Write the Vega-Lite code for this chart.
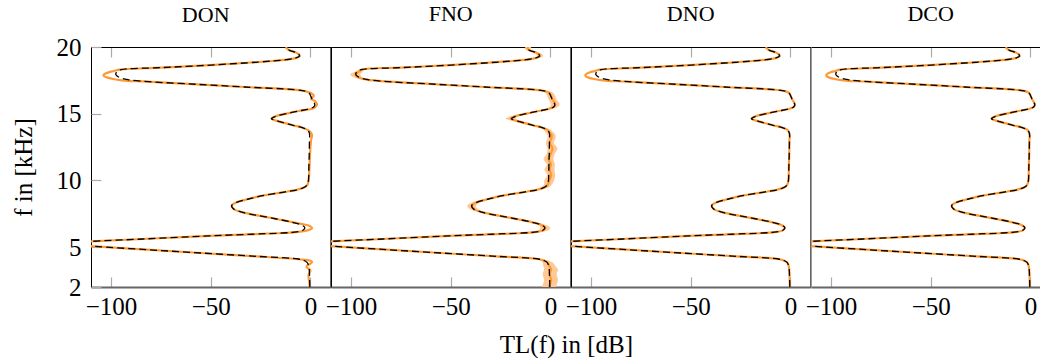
{
"$schema": "https://vega.github.io/schema/vega-lite/v6.json",
"padding": {"left": 10, "top": 2, "right": 0, "bottom": 0},
"spacing": 0,
"bounds": "flush",
"config": {"view": {"stroke": "black", "strokeWidth": 1}},
"title": {"text": "TL(f) in [dB]", "orient": "bottom", "anchor": "middle", "frame": "bounds", "dx": 40, "font": "Liberation Serif", "fontSize": 25, "fontWeight": "normal", "color": "black", "offset": 13, "baseline": "top"},
"datasets": {
"truth": [
{"f":2.0,"t":-0.3},{"f":2.5,"t":-0.4},{"f":3.0,"t":-0.5},{"f":3.3,"t":-0.6},{"f":3.6,"t":-0.9},{"f":3.85,"t":-1.7},{"f":3.97,"t":-3.0},{"f":4.1,"t":-6.0},{"f":4.3,"t":-27},{"f":4.55,"t":-55},{"f":4.8,"t":-82},{"f":5.05,"t":-108},{"f":5.18,"t":-120},{"f":5.25,"t":-123},{"f":5.32,"t":-120},{"f":5.42,"t":-110},{"f":5.6,"t":-84},{"f":5.8,"t":-56},{"f":5.95,"t":-31},{"f":6.05,"t":-14},{"f":6.13,"t":-7},{"f":6.25,"t":-3.8},{"f":6.45,"t":-2.8},{"f":6.65,"t":-4.5},{"f":6.85,"t":-9},{"f":7.1,"t":-17},{"f":7.35,"t":-26},{"f":7.6,"t":-34},{"f":7.85,"t":-38.5},{"f":8.1,"t":-39.5},{"f":8.35,"t":-37},{"f":8.6,"t":-31},{"f":8.85,"t":-24},{"f":9.1,"t":-14},{"f":9.3,"t":-6.5},{"f":9.5,"t":-2.8},{"f":9.7,"t":-1.5},{"f":10.0,"t":-1.0},{"f":11.0,"t":-0.8},{"f":12.0,"t":-0.6},{"f":13.0,"t":-0.5},{"f":13.4,"t":-0.4},{"f":13.6,"t":-0.7},{"f":13.78,"t":-1.5},{"f":13.95,"t":-4},{"f":14.13,"t":-8.7},{"f":14.4,"t":-15.5},{"f":14.63,"t":-19.5},{"f":14.8,"t":-17.5},{"f":15.0,"t":-12},{"f":15.2,"t":-6},{"f":15.35,"t":-1},{"f":15.5,"t":1.6},{"f":15.67,"t":2.2},{"f":16.1,"t":0.8},{"f":16.55,"t":-0.7},{"f":16.68,"t":-2.5},{"f":16.8,"t":-8},{"f":17.0,"t":-33},{"f":17.2,"t":-57},{"f":17.4,"t":-81},{"f":17.55,"t":-91.5},{"f":17.7,"t":-95.5},{"f":17.87,"t":-97.3},{"f":18.0,"t":-97.6},{"f":18.15,"t":-97},{"f":18.3,"t":-95},{"f":18.45,"t":-75},{"f":18.6,"t":-55},{"f":18.8,"t":-33},{"f":18.95,"t":-19},{"f":19.05,"t":-12},{"f":19.15,"t":-8},{"f":19.3,"t":-5.5},{"f":19.45,"t":-5.8},{"f":19.6,"t":-7.5},{"f":19.75,"t":-10.5},{"f":19.9,"t":-12},{"f":20.0,"t":-12}
],
"pred": [
{"m":"DON","f":2.0,"t":-0.4},{"m":"DON","f":2.4,"t":-0.6},{"m":"DON","f":2.85,"t":-1.0},{"m":"DON","f":3.05,"t":-0.5},{"m":"DON","f":3.25,"t":0.0},{"m":"DON","f":3.4,"t":-1.2},{"m":"DON","f":3.5,"t":-2.0},{"m":"DON","f":3.62,"t":-1.5},{"m":"DON","f":3.75,"t":0.0},{"m":"DON","f":3.88,"t":0.8},{"m":"DON","f":3.97,"t":0.0},{"m":"DON","f":4.05,"t":-3.5},{"m":"DON","f":4.3,"t":-27},{"m":"DON","f":4.55,"t":-55},{"m":"DON","f":4.8,"t":-82},{"m":"DON","f":5.05,"t":-108},{"m":"DON","f":5.18,"t":-120},{"m":"DON","f":5.25,"t":-123},{"m":"DON","f":5.32,"t":-120},{"m":"DON","f":5.42,"t":-110},{"m":"DON","f":5.6,"t":-84},{"m":"DON","f":5.8,"t":-56},{"m":"DON","f":5.95,"t":-31},{"m":"DON","f":6.05,"t":-14},{"m":"DON","f":6.13,"t":-6},{"m":"DON","f":6.25,"t":-1.5},{"m":"DON","f":6.4,"t":0.8},{"m":"DON","f":6.55,"t":0.0},{"m":"DON","f":6.7,"t":-3.5},{"m":"DON","f":6.85,"t":-8.5},{"m":"DON","f":7.1,"t":-17},{"m":"DON","f":7.35,"t":-26},{"m":"DON","f":7.6,"t":-34},{"m":"DON","f":7.85,"t":-38.5},{"m":"DON","f":8.1,"t":-39.5},{"m":"DON","f":8.35,"t":-37},{"m":"DON","f":8.6,"t":-31},{"m":"DON","f":8.85,"t":-24},{"m":"DON","f":9.1,"t":-14},{"m":"DON","f":9.3,"t":-6.5},{"m":"DON","f":9.5,"t":-2.8},{"m":"DON","f":9.7,"t":-1.4},{"m":"DON","f":10.0,"t":-0.9},{"m":"DON","f":11.0,"t":-0.5},{"m":"DON","f":12.0,"t":-0.2},{"m":"DON","f":13.0,"t":0.3},{"m":"DON","f":13.4,"t":0.8},{"m":"DON","f":13.6,"t":0.1},{"m":"DON","f":13.78,"t":-1.4},{"m":"DON","f":13.95,"t":-4},{"m":"DON","f":14.13,"t":-8.7},{"m":"DON","f":14.4,"t":-15.5},{"m":"DON","f":14.63,"t":-19.5},{"m":"DON","f":14.8,"t":-17.5},{"m":"DON","f":15.0,"t":-12},{"m":"DON","f":15.2,"t":-6},{"m":"DON","f":15.35,"t":0.5},{"m":"DON","f":15.5,"t":2.5},{"m":"DON","f":15.72,"t":3.3},{"m":"DON","f":15.95,"t":2.2},{"m":"DON","f":16.12,"t":0.3},{"m":"DON","f":16.35,"t":1.7},{"m":"DON","f":16.55,"t":0.2},{"m":"DON","f":16.68,"t":-2.5},{"m":"DON","f":16.8,"t":-8},{"m":"DON","f":17.0,"t":-33},{"m":"DON","f":17.2,"t":-57},{"m":"DON","f":17.4,"t":-82},{"m":"DON","f":17.5,"t":-94.5},{"m":"DON","f":17.62,"t":-99.5},{"m":"DON","f":17.73,"t":-102.3},{"m":"DON","f":17.85,"t":-103.7},{"m":"DON","f":17.97,"t":-103.3},{"m":"DON","f":18.1,"t":-101.2},{"m":"DON","f":18.2,"t":-98.5},{"m":"DON","f":18.3,"t":-95.7},{"m":"DON","f":18.45,"t":-75},{"m":"DON","f":18.6,"t":-55},{"m":"DON","f":18.8,"t":-33},{"m":"DON","f":18.95,"t":-19},{"m":"DON","f":19.05,"t":-12},{"m":"DON","f":19.15,"t":-8},{"m":"DON","f":19.3,"t":-5.5},{"m":"DON","f":19.45,"t":-5.8},{"m":"DON","f":19.6,"t":-7.5},{"m":"DON","f":19.75,"t":-10.5},{"m":"DON","f":19.9,"t":-12},{"m":"DON","f":20.0,"t":-12},

{"m":"FNO","f":2.0,"t":-0.8,"lo":-4.3,"hi":2.7},{"m":"FNO","f":2.5,"t":0.3,"lo":-3.2,"hi":3.8},{"m":"FNO","f":3.0,"t":-0.4,"lo":-3.9,"hi":3.1},{"m":"FNO","f":3.3,"t":0.3,"lo":-3.2,"hi":3.8},{"m":"FNO","f":3.6,"t":-0.6,"lo":-3.6,"hi":2.4},{"m":"FNO","f":3.85,"t":-1.5,"lo":-4.0,"hi":1.0},{"m":"FNO","f":3.97,"t":-3.0,"lo":-5.0,"hi":-1.0},{"m":"FNO","f":4.1,"t":-6.0,"lo":-7.5,"hi":-4.5},{"m":"FNO","f":4.3,"t":-27,"lo":-28,"hi":-26},{"m":"FNO","f":4.55,"t":-55,"lo":-56,"hi":-54},{"m":"FNO","f":4.8,"t":-82,"lo":-83,"hi":-81},{"m":"FNO","f":5.05,"t":-108,"lo":-109,"hi":-107},{"m":"FNO","f":5.18,"t":-120,"lo":-121,"hi":-119},{"m":"FNO","f":5.25,"t":-123,"lo":-124,"hi":-122},{"m":"FNO","f":5.32,"t":-120,"lo":-121,"hi":-119},{"m":"FNO","f":5.42,"t":-110,"lo":-111,"hi":-109},{"m":"FNO","f":5.6,"t":-84,"lo":-85,"hi":-83},{"m":"FNO","f":5.8,"t":-56,"lo":-57,"hi":-55},{"m":"FNO","f":5.95,"t":-31,"lo":-32,"hi":-30},{"m":"FNO","f":6.05,"t":-14,"lo":-15.5,"hi":-12.5},{"m":"FNO","f":6.13,"t":-7,"lo":-9,"hi":-5},{"m":"FNO","f":6.25,"t":-3.5,"lo":-6,"hi":-1},{"m":"FNO","f":6.45,"t":-2.6,"lo":-5.1,"hi":-0.1},{"m":"FNO","f":6.65,"t":-4.3,"lo":-6.3,"hi":-2.3},{"m":"FNO","f":6.85,"t":-9,"lo":-10.5,"hi":-7.5},{"m":"FNO","f":7.1,"t":-17,"lo":-18.2,"hi":-15.8},{"m":"FNO","f":7.35,"t":-26,"lo":-27.2,"hi":-24.8},{"m":"FNO","f":7.6,"t":-34,"lo":-35.5,"hi":-32.5},{"m":"FNO","f":7.85,"t":-38.5,"lo":-40.5,"hi":-36.5},{"m":"FNO","f":8.1,"t":-39.5,"lo":-41.7,"hi":-37.3},{"m":"FNO","f":8.35,"t":-37,"lo":-39,"hi":-35},{"m":"FNO","f":8.6,"t":-31,"lo":-32.5,"hi":-29.5},{"m":"FNO","f":8.85,"t":-24,"lo":-25.2,"hi":-22.8},{"m":"FNO","f":9.1,"t":-14,"lo":-15.2,"hi":-12.8},{"m":"FNO","f":9.3,"t":-6.5,"lo":-8,"hi":-5},{"m":"FNO","f":9.5,"t":-2.5,"lo":-4.5,"hi":-0.5},{"m":"FNO","f":9.7,"t":-1.2,"lo":-3.2,"hi":0.8},{"m":"FNO","f":10.0,"t":-0.6,"lo":-3.1,"hi":1.9},{"m":"FNO","f":10.4,"t":0.4,"lo":-1.6,"hi":2.4},{"m":"FNO","f":10.8,"t":-0.5,"lo":-3,"hi":2},{"m":"FNO","f":11.2,"t":0.2,"lo":-1.8,"hi":2.2},{"m":"FNO","f":11.6,"t":-1.0,"lo":-3.5,"hi":1.5},{"m":"FNO","f":12.0,"t":0.2,"lo":-1.8,"hi":2.2},{"m":"FNO","f":12.4,"t":1.0,"lo":-1.5,"hi":3.5},{"m":"FNO","f":12.8,"t":-0.3,"lo":-2.3,"hi":1.7},{"m":"FNO","f":13.2,"t":0.6,"lo":-1.4,"hi":2.6},{"m":"FNO","f":13.4,"t":0.5,"lo":-1.5,"hi":2.5},{"m":"FNO","f":13.6,"t":-0.5,"lo":-2.5,"hi":1.5},{"m":"FNO","f":13.78,"t":-1.5,"lo":-3.3,"hi":0.3},{"m":"FNO","f":13.95,"t":-4,"lo":-5.5,"hi":-2.5},{"m":"FNO","f":14.13,"t":-8.7,"lo":-10.2,"hi":-7.2},{"m":"FNO","f":14.4,"t":-15.5,"lo":-17.5,"hi":-13.5},{"m":"FNO","f":14.63,"t":-20,"lo":-22.5,"hi":-17.5},{"m":"FNO","f":14.8,"t":-18,"lo":-20.2,"hi":-15.8},{"m":"FNO","f":15.0,"t":-12,"lo":-13.5,"hi":-10.5},{"m":"FNO","f":15.2,"t":-6,"lo":-7.5,"hi":-4.5},{"m":"FNO","f":15.35,"t":-1,"lo":-2.8,"hi":0.8},{"m":"FNO","f":15.5,"t":1.6,"lo":-0.4,"hi":3.6},{"m":"FNO","f":15.67,"t":2.4,"lo":0.2,"hi":4.6},{"m":"FNO","f":16.1,"t":1.0,"lo":-1,"hi":3},{"m":"FNO","f":16.55,"t":-0.5,"lo":-2.5,"hi":1.5},{"m":"FNO","f":16.68,"t":-2.5,"lo":-4.3,"hi":-0.7},{"m":"FNO","f":16.8,"t":-8,"lo":-9.2,"hi":-6.8},{"m":"FNO","f":17.0,"t":-33,"lo":-34,"hi":-32},{"m":"FNO","f":17.2,"t":-57,"lo":-58,"hi":-56},{"m":"FNO","f":17.4,"t":-81,"lo":-82.2,"hi":-79.8},{"m":"FNO","f":17.55,"t":-92,"lo":-93.5,"hi":-90.5},{"m":"FNO","f":17.7,"t":-96,"lo":-98,"hi":-94},{"m":"FNO","f":17.85,"t":-97.5,"lo":-100,"hi":-95},{"m":"FNO","f":17.97,"t":-97.8,"lo":-100.3,"hi":-95.3},{"m":"FNO","f":18.1,"t":-96.5,"lo":-98.7,"hi":-94.3},{"m":"FNO","f":18.3,"t":-94.5,"lo":-96,"hi":-93},{"m":"FNO","f":18.45,"t":-75,"lo":-76,"hi":-74},{"m":"FNO","f":18.6,"t":-55,"lo":-56,"hi":-54},{"m":"FNO","f":18.8,"t":-33,"lo":-34,"hi":-32},{"m":"FNO","f":18.95,"t":-19,"lo":-20,"hi":-18},{"m":"FNO","f":19.05,"t":-12,"lo":-13.2,"hi":-10.8},{"m":"FNO","f":19.15,"t":-8,"lo":-9.5,"hi":-6.5},{"m":"FNO","f":19.3,"t":-5.3,"lo":-6.8,"hi":-3.8},{"m":"FNO","f":19.45,"t":-5.6,"lo":-7.1,"hi":-4.1},{"m":"FNO","f":19.6,"t":-7.5,"lo":-9,"hi":-6},{"m":"FNO","f":19.75,"t":-10.5,"lo":-12,"hi":-9},{"m":"FNO","f":19.9,"t":-11.5,"lo":-13,"hi":-10},{"m":"FNO","f":20.0,"t":-11,"lo":-12.5,"hi":-9.5},

{"m":"DNO","f":2.0,"t":-0.3},{"m":"DNO","f":2.5,"t":-0.4},{"m":"DNO","f":3.0,"t":-0.5},{"m":"DNO","f":3.3,"t":-0.6},{"m":"DNO","f":3.6,"t":-0.9},{"m":"DNO","f":3.85,"t":-1.7},{"m":"DNO","f":3.97,"t":-3.0},{"m":"DNO","f":4.1,"t":-6.0},{"m":"DNO","f":4.3,"t":-27},{"m":"DNO","f":4.55,"t":-55},{"m":"DNO","f":4.8,"t":-82},{"m":"DNO","f":5.05,"t":-108},{"m":"DNO","f":5.18,"t":-120},{"m":"DNO","f":5.25,"t":-123},{"m":"DNO","f":5.32,"t":-120},{"m":"DNO","f":5.42,"t":-110},{"m":"DNO","f":5.6,"t":-84},{"m":"DNO","f":5.8,"t":-56},{"m":"DNO","f":5.95,"t":-31},{"m":"DNO","f":6.05,"t":-14},{"m":"DNO","f":6.13,"t":-7},{"m":"DNO","f":6.25,"t":-3.8},{"m":"DNO","f":6.45,"t":-2.8},{"m":"DNO","f":6.65,"t":-4.5},{"m":"DNO","f":6.85,"t":-9},{"m":"DNO","f":7.1,"t":-17},{"m":"DNO","f":7.35,"t":-26},{"m":"DNO","f":7.6,"t":-34},{"m":"DNO","f":7.85,"t":-38.5},{"m":"DNO","f":8.1,"t":-39.5},{"m":"DNO","f":8.35,"t":-37},{"m":"DNO","f":8.6,"t":-31},{"m":"DNO","f":8.85,"t":-24},{"m":"DNO","f":9.1,"t":-14},{"m":"DNO","f":9.3,"t":-6.5},{"m":"DNO","f":9.5,"t":-2.8},{"m":"DNO","f":9.7,"t":-1.5},{"m":"DNO","f":10.0,"t":-1.0},{"m":"DNO","f":11.0,"t":-0.8},{"m":"DNO","f":12.0,"t":-0.6},{"m":"DNO","f":13.0,"t":-0.5},{"m":"DNO","f":13.4,"t":-0.4},{"m":"DNO","f":13.6,"t":-0.7},{"m":"DNO","f":13.78,"t":-1.5},{"m":"DNO","f":13.95,"t":-4},{"m":"DNO","f":14.13,"t":-8.7},{"m":"DNO","f":14.4,"t":-15.5},{"m":"DNO","f":14.63,"t":-19.5},{"m":"DNO","f":14.8,"t":-17.5},{"m":"DNO","f":15.0,"t":-12},{"m":"DNO","f":15.2,"t":-6},{"m":"DNO","f":15.35,"t":-1},{"m":"DNO","f":15.5,"t":1.6},{"m":"DNO","f":15.67,"t":2.2},{"m":"DNO","f":16.1,"t":0.8},{"m":"DNO","f":16.55,"t":-0.7},{"m":"DNO","f":16.68,"t":-2.5},{"m":"DNO","f":16.8,"t":-8},{"m":"DNO","f":17.0,"t":-33},{"m":"DNO","f":17.2,"t":-57},{"m":"DNO","f":17.4,"t":-82},{"m":"DNO","f":17.5,"t":-94},{"m":"DNO","f":17.62,"t":-99},{"m":"DNO","f":17.73,"t":-101.7},{"m":"DNO","f":17.85,"t":-102.8},{"m":"DNO","f":17.97,"t":-102.4},{"m":"DNO","f":18.1,"t":-100.5},{"m":"DNO","f":18.2,"t":-98},{"m":"DNO","f":18.3,"t":-95.5},{"m":"DNO","f":18.45,"t":-75},{"m":"DNO","f":18.6,"t":-55},{"m":"DNO","f":18.8,"t":-33},{"m":"DNO","f":18.95,"t":-19},{"m":"DNO","f":19.05,"t":-12},{"m":"DNO","f":19.15,"t":-8},{"m":"DNO","f":19.3,"t":-5.5},{"m":"DNO","f":19.45,"t":-5.8},{"m":"DNO","f":19.6,"t":-7.5},{"m":"DNO","f":19.75,"t":-10.5},{"m":"DNO","f":19.9,"t":-12},{"m":"DNO","f":20.0,"t":-12},

{"m":"DCO","f":2.0,"t":-0.3},{"m":"DCO","f":2.5,"t":-0.4},{"m":"DCO","f":3.0,"t":-0.5},{"m":"DCO","f":3.3,"t":-0.6},{"m":"DCO","f":3.6,"t":-0.9},{"m":"DCO","f":3.85,"t":-1.7},{"m":"DCO","f":3.97,"t":-3.0},{"m":"DCO","f":4.1,"t":-6.0},{"m":"DCO","f":4.3,"t":-27},{"m":"DCO","f":4.55,"t":-55},{"m":"DCO","f":4.8,"t":-82},{"m":"DCO","f":5.05,"t":-108},{"m":"DCO","f":5.18,"t":-120},{"m":"DCO","f":5.25,"t":-123},{"m":"DCO","f":5.32,"t":-120},{"m":"DCO","f":5.42,"t":-110},{"m":"DCO","f":5.6,"t":-84},{"m":"DCO","f":5.8,"t":-56},{"m":"DCO","f":5.95,"t":-31},{"m":"DCO","f":6.05,"t":-14},{"m":"DCO","f":6.13,"t":-7},{"m":"DCO","f":6.25,"t":-3.8},{"m":"DCO","f":6.45,"t":-2.8},{"m":"DCO","f":6.65,"t":-4.5},{"m":"DCO","f":6.85,"t":-9},{"m":"DCO","f":7.1,"t":-17},{"m":"DCO","f":7.35,"t":-26},{"m":"DCO","f":7.6,"t":-34},{"m":"DCO","f":7.85,"t":-38.5},{"m":"DCO","f":8.1,"t":-39.5},{"m":"DCO","f":8.35,"t":-37},{"m":"DCO","f":8.6,"t":-31},{"m":"DCO","f":8.85,"t":-24},{"m":"DCO","f":9.1,"t":-14},{"m":"DCO","f":9.3,"t":-6.5},{"m":"DCO","f":9.5,"t":-2.8},{"m":"DCO","f":9.7,"t":-1.5},{"m":"DCO","f":10.0,"t":-1.0},{"m":"DCO","f":11.0,"t":-0.8},{"m":"DCO","f":12.0,"t":-0.6},{"m":"DCO","f":13.0,"t":-0.5},{"m":"DCO","f":13.4,"t":-0.4},{"m":"DCO","f":13.6,"t":-0.7},{"m":"DCO","f":13.78,"t":-1.5},{"m":"DCO","f":13.95,"t":-4},{"m":"DCO","f":14.13,"t":-8.7},{"m":"DCO","f":14.4,"t":-15.5},{"m":"DCO","f":14.63,"t":-19.5},{"m":"DCO","f":14.8,"t":-17.5},{"m":"DCO","f":15.0,"t":-12},{"m":"DCO","f":15.2,"t":-6},{"m":"DCO","f":15.35,"t":-1},{"m":"DCO","f":15.5,"t":1.6},{"m":"DCO","f":15.67,"t":2.2},{"m":"DCO","f":16.1,"t":0.8},{"m":"DCO","f":16.55,"t":-0.7},{"m":"DCO","f":16.68,"t":-2.5},{"m":"DCO","f":16.8,"t":-8},{"m":"DCO","f":17.0,"t":-33},{"m":"DCO","f":17.2,"t":-57},{"m":"DCO","f":17.4,"t":-82},{"m":"DCO","f":17.5,"t":-93.8},{"m":"DCO","f":17.62,"t":-98.7},{"m":"DCO","f":17.73,"t":-101.3},{"m":"DCO","f":17.85,"t":-102.3},{"m":"DCO","f":17.97,"t":-102},{"m":"DCO","f":18.1,"t":-100.2},{"m":"DCO","f":18.2,"t":-97.8},{"m":"DCO","f":18.3,"t":-95.4},{"m":"DCO","f":18.45,"t":-75},{"m":"DCO","f":18.6,"t":-55},{"m":"DCO","f":18.8,"t":-33},{"m":"DCO","f":18.95,"t":-19},{"m":"DCO","f":19.05,"t":-12},{"m":"DCO","f":19.15,"t":-8},{"m":"DCO","f":19.3,"t":-5.5},{"m":"DCO","f":19.45,"t":-5.8},{"m":"DCO","f":19.6,"t":-7.5},{"m":"DCO","f":19.75,"t":-10.5},{"m":"DCO","f":19.9,"t":-12},{"m":"DCO","f":20.0,"t":-12}
]
},
"hconcat": [
{
 "title": {"text": "DON", "font": "Liberation Serif", "fontSize": 22, "fontWeight": "normal", "color": "black", "baseline": "alphabetic", "offset": -9, "dx": -5},
 "width": 239.4, "height": 240,
 "view": {"stroke": "black", "strokeWidth": 1},
 "layer": [
  {"data": {"name": "pred"}, "transform": [{"filter": "datum.m === 'DON'"}],
   "mark": {"type": "line", "color": "#ff9933", "strokeWidth": 2.2, "clip": true, "interpolate": "catmull-rom"},
   "encoding": {
    "x": {"field": "t", "type": "quantitative", "scale": {"domain": [-110, 10], "nice": false, "zero": false}, "axis": {"orient": "bottom", "values": [-100, -50, 0], "title": null, "labelFont": "Liberation Serif", "labelFontSize": 25, "labelColor": "black", "labelPadding": 17, "labelFlush": false, "labelOverlap": false, "tickColor": "#aaaaaa", "tickSize": -10, "tickWidth": 1.2, "grid": false, "domainColor": "#666666", "domainWidth": 2}},
    "y": {"field": "f", "type": "quantitative", "scale": {"domain": [2, 20], "nice": false, "zero": false}, "axis": {"values": [2, 5, 10, 15, 20], "title": "f in [kHz]", "titleFont": "Liberation Serif", "titleFontSize": 25, "titleFontWeight": "normal", "titleColor": "black", "titlePadding": 20, "labelFont": "Liberation Serif", "labelFontSize": 25, "labelColor": "black", "labelPadding": 20, "labelFlush": false, "labelOverlap": false, "tickColor": "#aaaaaa", "tickSize": -10, "tickWidth": 1.2, "grid": false, "domain": false}},
    "order": {"field": "f", "type": "quantitative"}}},
  {"data": {"name": "truth"},
   "mark": {"type": "line", "color": "black", "strokeWidth": 1.3, "strokeDash": [7, 4], "clip": true, "interpolate": "catmull-rom"},
   "encoding": {
    "x": {"field": "t", "type": "quantitative", "scale": {"domain": [-110, 10], "nice": false, "zero": false}, "axis": {"orient": "top", "values": [-100, -50, 0], "title": null, "labels": false, "tickColor": "#aaaaaa", "tickSize": -10, "tickWidth": 1.2, "grid": false, "domainColor": "black", "domainWidth": 1}},
    "y": {"field": "f", "type": "quantitative", "scale": {"domain": [2, 20], "nice": false, "zero": false}, "axis": {"values": [2, 5, 10, 15, 20], "title": "f in [kHz]", "titleFont": "Liberation Serif", "titleFontSize": 25, "titleFontWeight": "normal", "titleColor": "black", "titlePadding": 20, "labelFont": "Liberation Serif", "labelFontSize": 25, "labelColor": "black", "labelPadding": 20, "labelFlush": false, "labelOverlap": false, "tickColor": "#aaaaaa", "tickSize": -10, "tickWidth": 1.2, "grid": false, "domain": false}},
    "order": {"field": "f", "type": "quantitative"}}}
 ],
 "resolve": {"axis": {"x": "independent"}}
},
{
 "title": {"text": "FNO", "font": "Liberation Serif", "fontSize": 22, "fontWeight": "normal", "color": "black", "baseline": "alphabetic", "offset": 3},
 "width": 239.4, "height": 240,
 "view": {"stroke": "black", "strokeWidth": 1},
 "layer": [
  {"data": {"name": "pred"}, "transform": [{"filter": "datum.m === 'FNO'"}],
   "mark": {"type": "area", "orient": "horizontal", "color": "#ffc996", "clip": true, "interpolate": "catmull-rom"},
   "encoding": {
    "x": {"field": "lo", "type": "quantitative", "scale": {"domain": [-110, 10], "nice": false, "zero": false}, "axis": null},
    "x2": {"field": "hi"},
    "y": {"field": "f", "type": "quantitative", "scale": {"domain": [2, 20], "nice": false, "zero": false}, "axis": null}}},
  {"data": {"name": "pred"}, "transform": [{"filter": "datum.m === 'FNO'"}],
   "mark": {"type": "line", "color": "#ff9933", "strokeWidth": 2.2, "clip": true, "interpolate": "catmull-rom"},
   "encoding": {
    "x": {"field": "t", "type": "quantitative", "scale": {"domain": [-110, 10], "nice": false, "zero": false}, "axis": {"orient": "bottom", "values": [-100, -50, 0], "title": null, "labelFont": "Liberation Serif", "labelFontSize": 25, "labelColor": "black", "labelPadding": 17, "labelFlush": false, "labelOverlap": false, "tickColor": "#aaaaaa", "tickSize": -10, "tickWidth": 1.2, "grid": false, "domainColor": "#666666", "domainWidth": 2}},
    "y": {"field": "f", "type": "quantitative", "scale": {"domain": [2, 20], "nice": false, "zero": false}, "axis": null},
    "order": {"field": "f", "type": "quantitative"}}},
  {"data": {"name": "truth"},
   "mark": {"type": "line", "color": "black", "strokeWidth": 1.3, "strokeDash": [7, 4], "clip": true, "interpolate": "catmull-rom"},
   "encoding": {
    "x": {"field": "t", "type": "quantitative", "scale": {"domain": [-110, 10], "nice": false, "zero": false}, "axis": {"orient": "top", "values": [-100, -50, 0], "title": null, "labels": false, "tickColor": "#aaaaaa", "tickSize": -10, "tickWidth": 1.2, "grid": false, "domainColor": "black", "domainWidth": 1}},
    "y": {"field": "f", "type": "quantitative", "scale": {"domain": [2, 20], "nice": false, "zero": false}, "axis": null},
    "order": {"field": "f", "type": "quantitative"}}}
 ],
 "resolve": {"axis": {"x": "independent"}}
},
{
 "title": {"text": "DNO", "font": "Liberation Serif", "fontSize": 22, "fontWeight": "normal", "color": "black", "baseline": "alphabetic", "offset": 3},
 "width": 239.4, "height": 240,
 "view": {"stroke": "black", "strokeWidth": 1},
 "layer": [
  {"data": {"name": "pred"}, "transform": [{"filter": "datum.m === 'DNO'"}],
   "mark": {"type": "line", "color": "#ff9933", "strokeWidth": 2.2, "clip": true, "interpolate": "catmull-rom"},
   "encoding": {
    "x": {"field": "t", "type": "quantitative", "scale": {"domain": [-110, 10], "nice": false, "zero": false}, "axis": {"orient": "bottom", "values": [-100, -50, 0], "title": null, "labelFont": "Liberation Serif", "labelFontSize": 25, "labelColor": "black", "labelPadding": 17, "labelFlush": false, "labelOverlap": false, "tickColor": "#aaaaaa", "tickSize": -10, "tickWidth": 1.2, "grid": false, "domainColor": "#666666", "domainWidth": 2}},
    "y": {"field": "f", "type": "quantitative", "scale": {"domain": [2, 20], "nice": false, "zero": false}, "axis": null},
    "order": {"field": "f", "type": "quantitative"}}},
  {"data": {"name": "truth"},
   "mark": {"type": "line", "color": "black", "strokeWidth": 1.3, "strokeDash": [7, 4], "clip": true, "interpolate": "catmull-rom"},
   "encoding": {
    "x": {"field": "t", "type": "quantitative", "scale": {"domain": [-110, 10], "nice": false, "zero": false}, "axis": {"orient": "top", "values": [-100, -50, 0], "title": null, "labels": false, "tickColor": "#aaaaaa", "tickSize": -10, "tickWidth": 1.2, "grid": false, "domainColor": "black", "domainWidth": 1}},
    "y": {"field": "f", "type": "quantitative", "scale": {"domain": [2, 20], "nice": false, "zero": false}, "axis": null},
    "order": {"field": "f", "type": "quantitative"}}}
 ],
 "resolve": {"axis": {"x": "independent"}}
},
{
 "title": {"text": "DCO", "font": "Liberation Serif", "fontSize": 22, "fontWeight": "normal", "color": "black", "baseline": "alphabetic", "offset": 3, "dx": 4},
 "width": 231.4, "height": 240,
 "view": {"stroke": null},
 "layer": [
  {"data": {"name": "pred"}, "transform": [{"filter": "datum.m === 'DCO'"}],
   "mark": {"type": "line", "color": "#ff9933", "strokeWidth": 2.2, "clip": true, "interpolate": "catmull-rom"},
   "encoding": {
    "x": {"field": "t", "type": "quantitative", "scale": {"domain": [-110, 6], "nice": false, "zero": false}, "axis": {"orient": "bottom", "values": [-100, -50, 0], "title": null, "labelFont": "Liberation Serif", "labelFontSize": 25, "labelColor": "black", "labelPadding": 17, "labelFlush": false, "labelOverlap": false, "tickColor": "#aaaaaa", "tickSize": -10, "tickWidth": 1.2, "grid": false, "domainColor": "#666666", "domainWidth": 2}},
    "y": {"field": "f", "type": "quantitative", "scale": {"domain": [2, 20], "nice": false, "zero": false}, "axis": null},
    "order": {"field": "f", "type": "quantitative"}}},
  {"data": {"name": "truth"},
   "mark": {"type": "line", "color": "black", "strokeWidth": 1.3, "strokeDash": [7, 4], "clip": true, "interpolate": "catmull-rom"},
   "encoding": {
    "x": {"field": "t", "type": "quantitative", "scale": {"domain": [-110, 6], "nice": false, "zero": false}, "axis": {"orient": "top", "values": [-100, -50, 0], "title": null, "labels": false, "tickColor": "#aaaaaa", "tickSize": -10, "tickWidth": 1.2, "grid": false, "domainColor": "black", "domainWidth": 1}},
    "y": {"field": "f", "type": "quantitative", "scale": {"domain": [2, 20], "nice": false, "zero": false}, "axis": null},
    "order": {"field": "f", "type": "quantitative"}}}
 ],
 "resolve": {"axis": {"x": "independent"}}
}
]
}
